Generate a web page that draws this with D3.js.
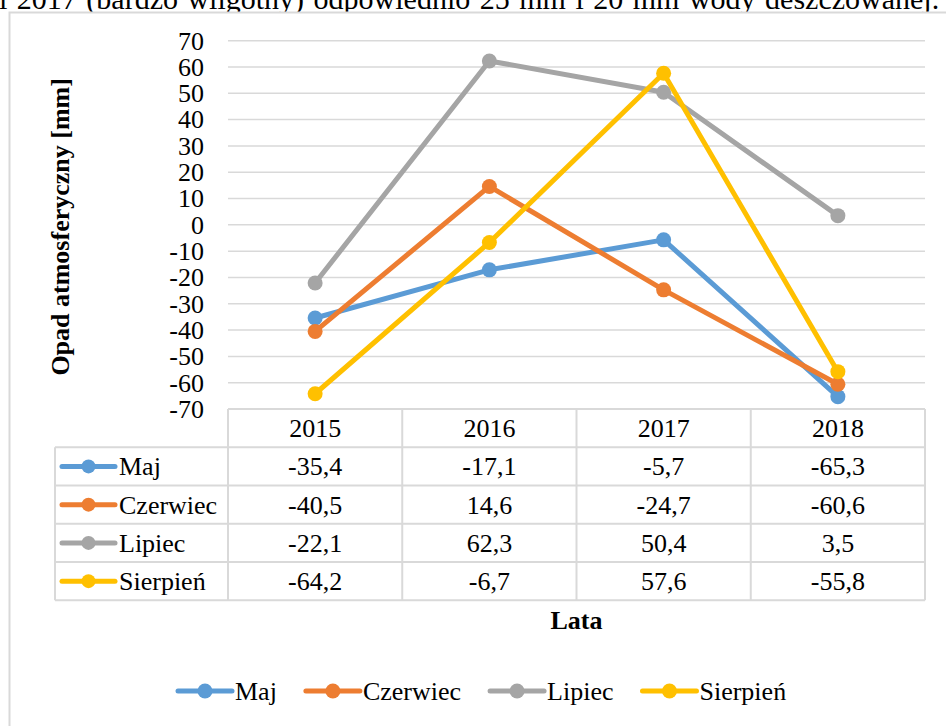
<!DOCTYPE html>
<html>
<head>
<meta charset="utf-8">
<script src="https://cdn.jsdelivr.net/npm/d3@7"></script>
<style>
  html, body { margin: 0; padding: 0; background: #fff; overflow: hidden; }
  svg { display: block; font-family: "Liberation Serif", "Times New Roman", serif; }
</style>
</head>
<body>
<svg id="chart" width="946" height="726"></svg>
<script>
// ---- data ----
const years = ["2015", "2016", "2017", "2018"];
const seriesNames = ["Maj", "Czerwiec", "Lipiec", "Sierpień"];
const maj = [-35.4, -17.1, -5.7, -65.3];
const czerwiec = [-40.5, 14.6, -24.7, -60.6];
const lipiec = [-22.1, 62.3, 50.4, 3.5];
const sierpien = [-64.2, -6.7, 57.6, -55.8];
const yTicks = [-70, -60, -50, -40, -30, -20, -10, 0, 10, 20, 30, 40, 50, 60, 70];
const seriesColors = ["#5B9BD5", "#ED7D31", "#A5A5A5", "#FFC000"];
const yTitle = "Opad atmosferyczny [mm]";
const xTitle = "Lata";
const topText = "i 2017 (bardzo wilgotny) odpowiednio 25 mm i 20 mm wody deszczowanej.";

const seriesValues = [maj, czerwiec, lipiec, sierpien];
const series = seriesNames.map((n, i) => ({ name: n, color: seriesColors[i], values: seriesValues[i] }));

// ---- layout ----
const W = 946, H = 726;
const plotL = 228, plotR = 925, plotT = 40.7, plotB = 409;
const rowH = 38.25;
const tableLeft = 55;
const FS = 26;
const gridColor = "#d9d9d9";

const svg = d3.select("#chart");

// clipped (justified) text line from the document above the chart
svg.append("text")
  .attr("x", -1).attr("y", 8.5)
  .attr("font-size", 30)
  .attr("word-spacing", 2)
  .attr("fill", "#000")
  .text(topText);

// chart frame
svg.append("rect")
  .attr("x", 9.5).attr("y", 12.5)
  .attr("width", W + 20).attr("height", H + 20)
  .attr("fill", "#fff")
  .attr("stroke", gridColor).attr("stroke-width", 2);

const x = d3.scaleBand().domain(years).range([plotL, plotR]);
const y = d3.scaleLinear().domain([-70, 70]).range([plotB, plotT]);

// gridlines
svg.append("g").selectAll("line").data(yTicks).join("line")
  .attr("x1", plotL).attr("x2", plotR)
  .attr("y1", d => y(d)).attr("y2", d => y(d))
  .attr("stroke", gridColor).attr("stroke-width", 1.5);

// y axis labels
const yAxis = d3.axisLeft(y).tickValues(yTicks).tickSize(0).tickPadding(24).tickFormat(d => String(d));
const gy = svg.append("g").attr("transform", `translate(${plotL},0)`).call(yAxis);
gy.select(".domain").remove();
gy.selectAll("text").attr("font-size", FS).attr("font-family", "Liberation Serif").attr("fill", "#000");

// y title
svg.append("text")
  .attr("transform", `translate(69,${(plotT + plotB) / 2 + 2}) rotate(-90)`)
  .attr("text-anchor", "middle")
  .attr("font-size", FS).attr("font-weight", "bold")
  .text(yTitle);

// lines + markers
const line = d3.line().x((d, i) => x(years[i]) + x.bandwidth() / 2).y(d => y(d));
const gs = svg.append("g").selectAll("g").data(series).join("g");
gs.append("path")
  .attr("d", d => line(d.values))
  .attr("fill", "none").attr("stroke", d => d.color)
  .attr("stroke-width", 5).attr("stroke-linejoin", "round").attr("stroke-linecap", "round");
gs.selectAll("circle").data(d => d.values.map(v => ({ v, c: d.color }))).join("circle")
  .attr("cx", (d, i) => x(years[i]) + x.bandwidth() / 2)
  .attr("cy", d => y(d.v))
  .attr("r", 7.5).attr("fill", d => d.c);

// ---- data table ----
const tb = svg.append("g");
const tableBottom = plotB + rowH * (series.length + 1);
tb.append("line").attr("x1", plotL).attr("x2", plotR).attr("y1", plotB).attr("y2", plotB)
  .attr("stroke", gridColor).attr("stroke-width", 2);
d3.range(1, series.length + 2).forEach(k => {
  tb.append("line").attr("x1", tableLeft).attr("x2", plotR)
    .attr("y1", plotB + k * rowH).attr("y2", plotB + k * rowH)
    .attr("stroke", gridColor).attr("stroke-width", 2);
});
const vx = years.map(yr => x(yr)).concat([plotR]);
vx.forEach(xx => {
  tb.append("line").attr("x1", xx).attr("x2", xx).attr("y1", plotB).attr("y2", tableBottom)
    .attr("stroke", gridColor).attr("stroke-width", 2);
});
tb.append("line").attr("x1", tableLeft).attr("x2", tableLeft).attr("y1", plotB + rowH).attr("y2", tableBottom)
  .attr("stroke", gridColor).attr("stroke-width", 2);

tb.selectAll("text.hdr").data(years).join("text").attr("class", "hdr")
  .attr("x", d => x(d) + x.bandwidth() / 2)
  .attr("y", plotB + rowH / 2).attr("dy", "0.35em")
  .attr("text-anchor", "middle").attr("font-size", FS)
  .text(d => d);

const fmt = v => v.toFixed(1).replace(".", ",");
series.forEach((s, r) => {
  const cy = plotB + rowH * (r + 1) + rowH / 2;
  tb.append("line").attr("x1", 62).attr("x2", 115).attr("y1", cy).attr("y2", cy)
    .attr("stroke", s.color).attr("stroke-width", 5).attr("stroke-linecap", "round");
  tb.append("circle").attr("cx", 88.5).attr("cy", cy).attr("r", 7).attr("fill", s.color);
  tb.append("text").attr("x", 119).attr("y", cy).attr("dy", "0.35em")
    .attr("font-size", FS).text(s.name);
  s.values.forEach((v, i) => {
    tb.append("text")
      .attr("x", x(years[i]) + x.bandwidth() / 2).attr("y", cy).attr("dy", "0.35em")
      .attr("text-anchor", "middle").attr("font-size", FS)
      .text(fmt(v));
  });
});

// x title
svg.append("text")
  .attr("x", (plotL + plotR) / 2).attr("y", 629)
  .attr("text-anchor", "middle").attr("font-size", FS).attr("font-weight", "bold")
  .text(xTitle);

// ---- bottom legend ----
const lg = svg.append("g");
let lx = 178;
const ly = 691;
series.forEach(s => {
  lg.append("line").attr("x1", lx).attr("x2", lx + 54).attr("y1", ly).attr("y2", ly)
    .attr("stroke", s.color).attr("stroke-width", 5).attr("stroke-linecap", "round");
  lg.append("circle").attr("cx", lx + 27).attr("cy", ly).attr("r", 7.5).attr("fill", s.color);
  const t = lg.append("text").attr("x", lx + 57).attr("y", ly).attr("dy", "0.35em")
    .attr("font-size", FS).text(s.name);
  const w = t.node().getComputedTextLength();
  lx = lx + 57 + w + 29;
});
</script>
</body>
</html>
